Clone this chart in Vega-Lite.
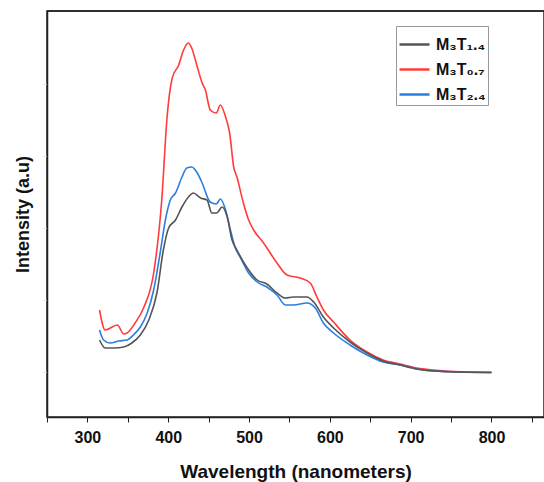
{
  "$schema": "https://vega.github.io/schema/vega-lite/v6.json",
  "width": 497,
  "height": 406,
  "autosize": {"type": "none"},
  "padding": {"left": 47, "top": 11, "right": 0, "bottom": 65},
  "config": {
    "font": "Liberation Sans",
    "view": {"stroke": "#222", "strokeWidth": 1.5}
  },
  "datasets": {
    "spectra": [
      {"s": "M₃T₀.₇", "nm": 315, "i": 107}, {"s": "M₃T₀.₇", "nm": 322, "i": 87}, {"s": "M₃T₀.₇", "nm": 337, "i": 92}, {"s": "M₃T₀.₇", "nm": 345, "i": 83}, {"s": "M₃T₀.₇", "nm": 349, "i": 84}, {"s": "M₃T₀.₇", "nm": 359, "i": 94}, {"s": "M₃T₀.₇", "nm": 370, "i": 110}, {"s": "M₃T₀.₇", "nm": 382, "i": 144}, {"s": "M₃T₀.₇", "nm": 392, "i": 217}, {"s": "M₃T₀.₇", "nm": 398.6, "i": 300}, {"s": "M₃T₀.₇", "nm": 405, "i": 339}, {"s": "M₃T₀.₇", "nm": 413, "i": 352}, {"s": "M₃T₀.₇", "nm": 419, "i": 367}, {"s": "M₃T₀.₇", "nm": 425, "i": 374}, {"s": "M₃T₀.₇", "nm": 429, "i": 369}, {"s": "M₃T₀.₇", "nm": 436, "i": 350}, {"s": "M₃T₀.₇", "nm": 442, "i": 334}, {"s": "M₃T₀.₇", "nm": 446, "i": 327}, {"s": "M₃T₀.₇", "nm": 452, "i": 307}, {"s": "M₃T₀.₇", "nm": 459.5, "i": 304}, {"s": "M₃T₀.₇", "nm": 464.5, "i": 312}, {"s": "M₃T₀.₇", "nm": 471, "i": 300}, {"s": "M₃T₀.₇", "nm": 476, "i": 284}, {"s": "M₃T₀.₇", "nm": 481, "i": 250}, {"s": "M₃T₀.₇", "nm": 485, "i": 240}, {"s": "M₃T₀.₇", "nm": 493, "i": 214}, {"s": "M₃T₀.₇", "nm": 499.5, "i": 197}, {"s": "M₃T₀.₇", "nm": 505.7, "i": 187}, {"s": "M₃T₀.₇", "nm": 518, "i": 174}, {"s": "M₃T₀.₇", "nm": 534.6, "i": 154}, {"s": "M₃T₀.₇", "nm": 547, "i": 142}, {"s": "M₃T₀.₇", "nm": 563, "i": 139}, {"s": "M₃T₀.₇", "nm": 575.8, "i": 134}, {"s": "M₃T₀.₇", "nm": 584, "i": 120}, {"s": "M₃T₀.₇", "nm": 592, "i": 107}, {"s": "M₃T₀.₇", "nm": 604.6, "i": 95}, {"s": "M₃T₀.₇", "nm": 625, "i": 77}, {"s": "M₃T₀.₇", "nm": 646, "i": 65}, {"s": "M₃T₀.₇", "nm": 666, "i": 57}, {"s": "M₃T₀.₇", "nm": 687, "i": 53}, {"s": "M₃T₀.₇", "nm": 707.7, "i": 49}, {"s": "M₃T₀.₇", "nm": 728, "i": 47}, {"s": "M₃T₀.₇", "nm": 769.5, "i": 45}, {"s": "M₃T₀.₇", "nm": 800, "i": 44.7},
      {"s": "M₃T₂.₄", "nm": 315, "i": 87}, {"s": "M₃T₂.₄", "nm": 320, "i": 77}, {"s": "M₃T₂.₄", "nm": 328, "i": 74}, {"s": "M₃T₂.₄", "nm": 339, "i": 76}, {"s": "M₃T₂.₄", "nm": 349, "i": 77}, {"s": "M₃T₂.₄", "nm": 357, "i": 82}, {"s": "M₃T₂.₄", "nm": 365.5, "i": 90}, {"s": "M₃T₂.₄", "nm": 374, "i": 104}, {"s": "M₃T₂.₄", "nm": 382, "i": 127}, {"s": "M₃T₂.₄", "nm": 390, "i": 164}, {"s": "M₃T₂.₄", "nm": 396.5, "i": 197}, {"s": "M₃T₂.₄", "nm": 402.6, "i": 217}, {"s": "M₃T₂.₄", "nm": 409, "i": 224}, {"s": "M₃T₂.₄", "nm": 417, "i": 240}, {"s": "M₃T₂.₄", "nm": 423, "i": 249}, {"s": "M₃T₂.₄", "nm": 429, "i": 250}, {"s": "M₃T₂.₄", "nm": 436, "i": 244}, {"s": "M₃T₂.₄", "nm": 442, "i": 234}, {"s": "M₃T₂.₄", "nm": 452, "i": 215}, {"s": "M₃T₂.₄", "nm": 459.5, "i": 213}, {"s": "M₃T₂.₄", "nm": 464.5, "i": 218}, {"s": "M₃T₂.₄", "nm": 471, "i": 207}, {"s": "M₃T₂.₄", "nm": 477, "i": 187}, {"s": "M₃T₂.₄", "nm": 483, "i": 169}, {"s": "M₃T₂.₄", "nm": 489, "i": 160}, {"s": "M₃T₂.₄", "nm": 499.5, "i": 144}, {"s": "M₃T₂.₄", "nm": 510, "i": 135}, {"s": "M₃T₂.₄", "nm": 522, "i": 130}, {"s": "M₃T₂.₄", "nm": 534.6, "i": 122}, {"s": "M₃T₂.₄", "nm": 545, "i": 112}, {"s": "M₃T₂.₄", "nm": 555, "i": 112}, {"s": "M₃T₂.₄", "nm": 571.6, "i": 114}, {"s": "M₃T₂.₄", "nm": 582, "i": 109}, {"s": "M₃T₂.₄", "nm": 592, "i": 94}, {"s": "M₃T₂.₄", "nm": 604.6, "i": 84}, {"s": "M₃T₂.₄", "nm": 625, "i": 72}, {"s": "M₃T₂.₄", "nm": 646, "i": 62}, {"s": "M₃T₂.₄", "nm": 666, "i": 55}, {"s": "M₃T₂.₄", "nm": 687, "i": 52}, {"s": "M₃T₂.₄", "nm": 707.7, "i": 48}, {"s": "M₃T₂.₄", "nm": 728, "i": 46}, {"s": "M₃T₂.₄", "nm": 769.5, "i": 45}, {"s": "M₃T₂.₄", "nm": 800, "i": 44.7},
      {"s": "M₃T₁.₄", "nm": 315, "i": 77}, {"s": "M₃T₁.₄", "nm": 322, "i": 69}, {"s": "M₃T₁.₄", "nm": 332.5, "i": 69}, {"s": "M₃T₁.₄", "nm": 345, "i": 70}, {"s": "M₃T₁.₄", "nm": 355, "i": 74}, {"s": "M₃T₁.₄", "nm": 365.5, "i": 82}, {"s": "M₃T₁.₄", "nm": 376, "i": 97}, {"s": "M₃T₁.₄", "nm": 386, "i": 124}, {"s": "M₃T₁.₄", "nm": 394, "i": 167}, {"s": "M₃T₁.₄", "nm": 400.5, "i": 189}, {"s": "M₃T₁.₄", "nm": 409, "i": 197}, {"s": "M₃T₁.₄", "nm": 417, "i": 210}, {"s": "M₃T₁.₄", "nm": 425, "i": 220}, {"s": "M₃T₁.₄", "nm": 431, "i": 224}, {"s": "M₃T₁.₄", "nm": 440, "i": 219}, {"s": "M₃T₁.₄", "nm": 448, "i": 217}, {"s": "M₃T₁.₄", "nm": 454, "i": 204}, {"s": "M₃T₁.₄", "nm": 460, "i": 204}, {"s": "M₃T₁.₄", "nm": 466.6, "i": 210}, {"s": "M₃T₁.₄", "nm": 473, "i": 200}, {"s": "M₃T₁.₄", "nm": 479, "i": 177}, {"s": "M₃T₁.₄", "nm": 485, "i": 167}, {"s": "M₃T₁.₄", "nm": 497, "i": 150}, {"s": "M₃T₁.₄", "nm": 510, "i": 137}, {"s": "M₃T₁.₄", "nm": 522, "i": 133}, {"s": "M₃T₁.₄", "nm": 534.6, "i": 124}, {"s": "M₃T₁.₄", "nm": 545, "i": 119}, {"s": "M₃T₁.₄", "nm": 555, "i": 120}, {"s": "M₃T₁.₄", "nm": 571.6, "i": 120}, {"s": "M₃T₁.₄", "nm": 580, "i": 115}, {"s": "M₃T₁.₄", "nm": 592, "i": 100}, {"s": "M₃T₁.₄", "nm": 604.6, "i": 89}, {"s": "M₃T₁.₄", "nm": 625, "i": 75}, {"s": "M₃T₁.₄", "nm": 646, "i": 64}, {"s": "M₃T₁.₄", "nm": 666, "i": 56}, {"s": "M₃T₁.₄", "nm": 687, "i": 52}, {"s": "M₃T₁.₄", "nm": 707.7, "i": 48}, {"s": "M₃T₁.₄", "nm": 728, "i": 46}, {"s": "M₃T₁.₄", "nm": 769.5, "i": 44.7}, {"s": "M₃T₁.₄", "nm": 800, "i": 44.3}
    ]
  },
  "layer": [
    {
      "data": {"name": "spectra"},
      "mark": {"type": "line", "strokeWidth": 1.6, "interpolate": "monotone"},
      "encoding": {
        "x": {
          "field": "nm",
          "type": "quantitative",
          "scale": {"domain": [250, 865], "nice": false, "zero": false},
          "axis": {
            "title": "Wavelength (nanometers)",
            "values": [250, 300, 350, 400, 450, 500, 550, 600, 650, 700, 750, 800, 850],
            "labelExpr": "datum.value % 100 == 0 ? datum.label : ''",
            "grid": false,
            "domainColor": "#222",
            "domainWidth": 1.5,
            "tickColor": "#222",
            "tickSize": 5,
            "tickWidth": 1,
            "labelFont": "Liberation Sans",
            "labelFontSize": 16,
            "labelFontWeight": "bold",
            "labelColor": "#111",
            "labelPadding": 7,
            "titleFont": "Liberation Sans",
            "titleFontSize": 19,
            "titleFontWeight": "bold",
            "titleColor": "#111",
            "titlePadding": 17
          }
        },
        "y": {
          "field": "i",
          "type": "quantitative",
          "scale": {"domain": [0, 406], "nice": false, "zero": false},
          "axis": {
            "title": "Intensity (a.u)",
            "values": [45, 117, 189, 261, 333],
            "labelExpr": "''",
            "labelPadding": 0,
            "grid": false,
            "domainColor": "#222",
            "domainWidth": 1.5,
            "tickColor": "#e4e4e4",
            "tickSize": 4,
            "titleFont": "Liberation Sans",
            "titleFontSize": 18,
            "titleFontWeight": "bold",
            "titleColor": "#111",
            "titlePadding": 10
          }
        },
        "color": {
          "field": "s",
          "type": "nominal",
          "scale": {"domain": ["M₃T₁.₄", "M₃T₀.₇", "M₃T₂.₄"], "range": ["#555555", "#ff3b3b", "#2a7de1"]},
          "legend": {
            "title": null,
            "orient": "none",
            "legendX": 349,
            "legendY": 15,
            "symbolType": "stroke",
            "symbolSize": 900,
            "symbolStrokeWidth": 2.5,
            "labelFont": "Liberation Sans",
            "labelFontSize": 16,
            "labelFontWeight": "bold",
            "labelColor": "#111",
            "labelOffset": 5,
            "rowPadding": -6,
            "padding": 2,
            "strokeColor": "#999"
          }
        }
      }
    },
    {
      "data": {"values": [{"top": 406}]},
      "mark": {"type": "rule", "color": "#222", "strokeWidth": 1.5},
      "encoding": {
        "y": {"field": "top", "type": "quantitative"}
      }
    }
  ]
}
